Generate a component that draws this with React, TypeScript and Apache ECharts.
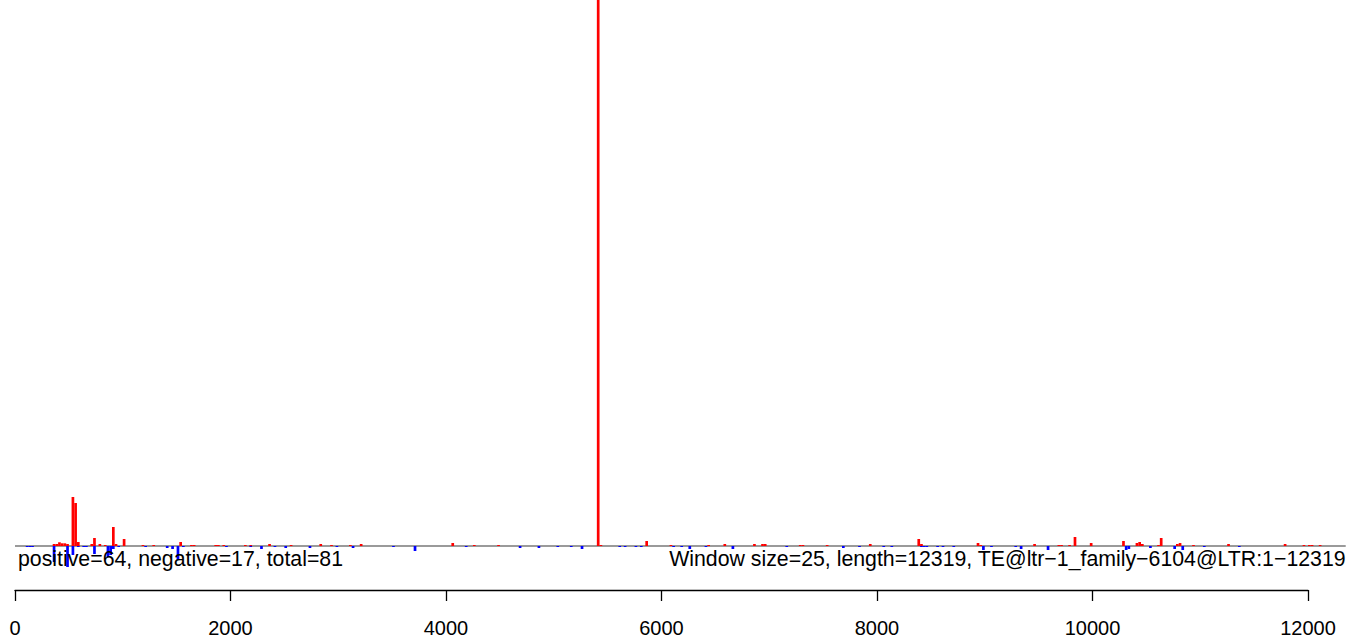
import React, { useEffect, useRef } from "react";
import * as echarts from "echarts";

// window start positions (bp) and scores of positive windows
const posStarts = [350, 375, 400, 425, 450, 475, 525, 550, 575, 700, 725, 775, 825, 900, 925, 1000, 1175, 1275, 1525, 1625, 1650,
  1850, 1875, 1925, 2125, 2175, 2350, 2550, 2825, 2925, 3100, 3200, 4050, 4250, 4475,
  5400, 5425, 5850, 6075, 6425, 6575, 6850, 6925, 6950,
  7275, 7300, 7525, 7925, 8375, 8400, 8925, 8950, 9450, 9675,
  9700, 9775, 9825, 9975, 10275, 10400, 10425, 10450, 10600, 10625, 10775, 10800, 10925, 11250, 11775, 11950, 12000, 12025, 12100];
const posValues = [2, 2, 3.7, 2.7, 2.7, 2, 49, 43, 4, 2, 8, 2, 1, 19, 2, 7, 1, 1, 4, 1, 1,
  1, 1, 1, 1, 1, 2, 1, 2, 1, 1, 2, 3, 1, 1,
  2000, 1, 5, 1, 1, 2, 2, 2, 2,
  1, 1, 1, 2, 7, 2, 3, 1, 2, 1,
  1, 1, 9, 3, 5, 3, 4, 2, 1, 8, 2, 3, 1, 2, 2, 1, 1, 1, 1];

// window start positions (bp) and scores of negative windows
const negStarts = [100, 125, 150, 350, 475, 525, 575, 625, 650, 725, 850, 875, 900, 950, 1200, 1400, 1450, 1500, 1550,
  1950, 2175, 2275, 2400, 2500, 2725, 2975, 3125, 3500, 3700, 4175,
  4675, 4850, 5025, 5150, 5250, 5600, 5650, 5750, 5800, 6100, 6175, 6250, 6400, 6650,
  7150, 7675, 7825, 8050, 8125, 8400, 8425, 8450, 8550, 8600, 8700, 8975, 9050, 9275, 9325, 9575,
  10300, 10325, 10525, 10750, 10825, 11025, 11350];
const negValues = [-1, -1, -1, -16, -21, -9, -1, -1, -1, -8, -11, -9, -3, -1, -1, -2, -3, -14, -1,
  -1, -1, -3, -1, -2, -2, -1, -2, -1, -5, -1,
  -2, -2, -1, -1, -3, -1, -1, -1, -1, -1, -1, -3, -1, -3,
  -1, -2, -1, -1, -1, -1, -1, -1, -1, -1, -1, -4, -1, -1, -3, -4,
  -4, -3, -2, -3, -4, -1, -1];

const windowSize = 25;
const seqLength = 12319;
const axisTicks = [0, 2000, 4000, 6000, 8000, 10000, 12000];

const leftLabel = "positive=64, negative=17, total=81";
const rightLabel = `Window size=${windowSize}, length=${seqLength}, TE@ltr\u22121_family\u22126104@LTR:1\u2212${seqLength}`;

const FONT = "'Liberation Sans', Arial, Helvetica, sans-serif";

export default function App() {
  const ref = useRef<HTMLDivElement>(null);
  useEffect(() => {
    if (!ref.current) return;
    const chart = echarts.init(ref.current, null, { renderer: "svg" });
    const pxPerUnit = 1293 / 12000;
    const xMax = 12350;
    const gridWidth = xMax * pxPerUnit;
    chart.setOption({
      animation: false,
      backgroundColor: "#ffffff",
      grid: [
        { left: 15, top: 0, width: gridWidth, bottom: 51, containLabel: false },
        { left: 15, width: 12000 * pxPerUnit, top: 589, height: 1, containLabel: false },
      ],
      xAxis: [
        { type: "value", gridIndex: 0, min: 0, max: xMax, show: false },
        {
          type: "value", gridIndex: 1, min: 0, max: axisTicks[axisTicks.length - 1], interval: axisTicks[1] - axisTicks[0],
          position: "bottom",
          axisLine: { show: true, lineStyle: { color: "#000", width: 1.3 } },
          axisTick: { show: true, length: 11, inside: false, lineStyle: { color: "#000", width: 1.3 } },
          axisLabel: { show: true, color: "#000", fontSize: 20, fontFamily: FONT, margin: 28, formatter: (v: number) => String(v) },
          splitLine: { show: false },
        },
      ],
      yAxis: [
        { type: "value", gridIndex: 0, min: -44, max: 546, show: false },
        { type: "value", gridIndex: 1, min: 0, max: 1, show: false },
      ],
      series: [
        {
          type: "bar", xAxisIndex: 0, yAxisIndex: 0, barWidth: windowSize * pxPerUnit, barGap: "-100%",
          itemStyle: { color: "#ff0000" }, clip: true, z: 3,
          data: posStarts.map((s, i) => [s + windowSize / 2, posValues[i]]),
          markLine: {
            silent: true, symbol: "none", z: 2,
            label: { show: false },
            lineStyle: { color: "#9a9a9a", width: 2, type: "solid" },
            data: [{ yAxis: 0 }],
          },
        },
        {
          type: "bar", xAxisIndex: 0, yAxisIndex: 0, barWidth: windowSize * pxPerUnit, barGap: "-100%",
          itemStyle: { color: "#0000ff" }, clip: true, z: 3,
          data: negStarts.map((s, i) => [s + windowSize / 2, negValues[i]]),
        },
      ],
      graphic: [
        {
          type: "text", left: 18, top: 548, z: 10,
          style: { text: leftLabel, fill: "#000", font: `21.3px ${FONT}` },
        },
        {
          type: "text", right: 18, top: 548, z: 10,
          style: { text: rightLabel, fill: "#000", font: `21.3px ${FONT}` },
        },
      ],
    });
    return () => chart.dispose();
  }, []);
  return <div ref={ref} style={{ position: "fixed", left: 0, top: 0, width: 1364, height: 641 }} />;
}
